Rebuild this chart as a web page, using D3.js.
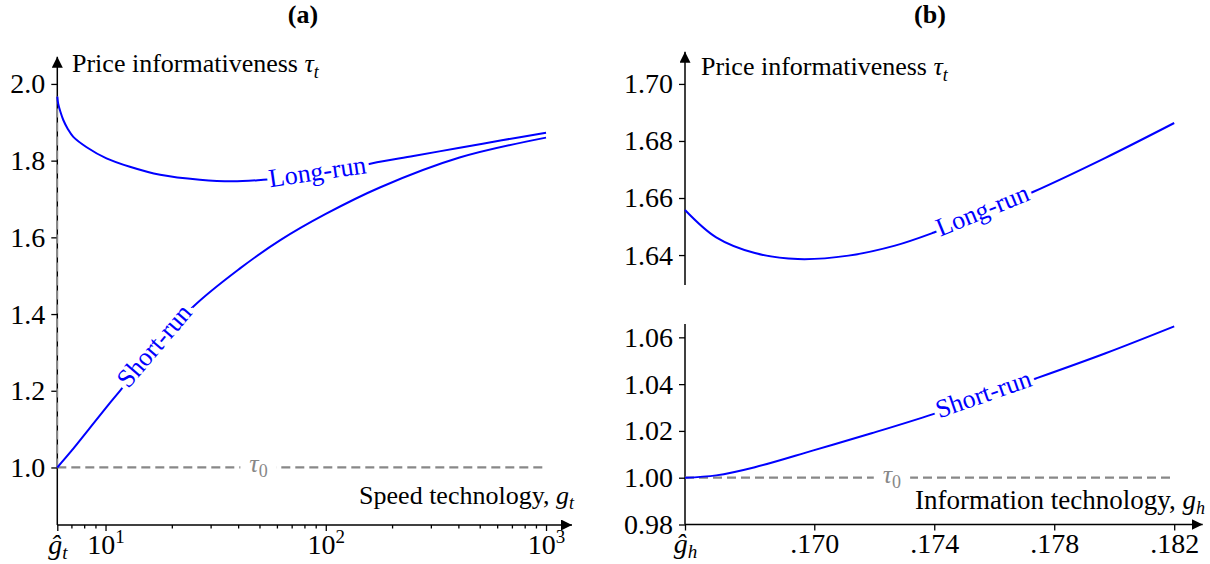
<!DOCTYPE html>
<html>
<head>
<meta charset="utf-8">
<script src="https://cdn.jsdelivr.net/npm/d3@7"></script>
<style>
  body { margin: 0; background: #fff; }
  svg text { font-family: "Liberation Serif", "Times New Roman", serif; }
</style>
</head>
<body>
<svg id="chart" width="1210" height="564"></svg>
<script>
// ---- Panel (a): price informativeness vs. speed technology g_t (log axis) ----
const gHatT = 6.04;
const speedLong = [6.04, 6.1, 6.25, 6.43, 6.75, 7.14, 8.21, 10.1, 12.9, 17.7, 26.8, 37.8, 52, 70, 100, 130, 163, 250, 400, 630, 1000];
const longRunSpeed = [1.967, 1.948, 1.926, 1.906, 1.882, 1.862, 1.835, 1.806, 1.784, 1.763, 1.750, 1.746, 1.750, 1.756, 1.767, 1.780, 1.793, 1.812, 1.833, 1.853, 1.873];
const speedShort = [6.04, 7, 8.41, 10, 11.63, 16, 25, 40.8, 61.9, 100, 176, 405, 1000];
const shortRunSpeed = [1.0, 1.043, 1.10, 1.154, 1.20, 1.295, 1.419, 1.519, 1.592, 1.661, 1.730, 1.808, 1.860];
const tauTicksA = [1.0, 1.2, 1.4, 1.6, 1.8, 2.0];
const speedMajorTicks = [10, 100, 1000];
const speedTickExponents = ["1", "2", "3"];
const speedMinorTicks = [7, 8, 9, 20, 30, 40, 50, 60, 70, 80, 90, 200, 300, 400, 500, 600, 700, 800, 900];

// ---- Panel (b): price informativeness vs. information technology g_h ----
const gHatH = 0.16569;
const infoLong = [0.16569, 0.16673, 0.16802, 0.16945, 0.17114, 0.17269, 0.17399, 0.17564, 0.17729, 0.17969, 0.182];
const longRunInfo = [1.6558, 1.6462, 1.6407, 1.6386, 1.6398, 1.6433, 1.6479, 1.6548, 1.6621, 1.6740, 1.6863];
const infoShort = [0.16569, 0.16673, 0.16802, 0.16997, 0.17191, 0.17399, 0.17736, 0.17969, 0.182];
const shortRunInfo = [1.0, 1.0010, 1.0045, 1.0117, 1.0190, 1.0273, 1.0423, 1.0531, 1.0647];
const tauTicksUpper = [1.64, 1.66, 1.68, 1.70];
const tauTicksLower = [0.98, 1.00, 1.02, 1.04, 1.06];
const infoTicks = [0.170, 0.174, 0.178, 0.182];
const infoTickLabels = [".170", ".174", ".178", ".182"];

const tau0 = 1.0;

// ---- drawing ----
const FONT = '"Liberation Serif", "Times New Roman", serif';
const BLUE = "#0000ff";
const GREY = "#888888";
const FS = 26;      // titles and annotations
const TICK_FS = 28; // tick labels

const svg = d3.select("#chart");

svg.append("defs").append("marker")
  .attr("id", "arrow")
  .attr("viewBox", "0 0 11 11")
  .attr("refX", 11).attr("refY", 5.5)
  .attr("markerWidth", 11).attr("markerHeight", 11)
  .attr("markerUnits", "userSpaceOnUse")
  .attr("orient", "auto")
  .append("path").attr("d", "M0,0L11,5.5L0,11Z").attr("fill", "#000");

function styleAxis(g) {
  g.attr("font-family", FONT).attr("font-size", TICK_FS);
  g.select(".domain").remove();
  g.selectAll(".tick line").attr("stroke", "#000").attr("stroke-width", 1.3);
  g.selectAll(".tick text").attr("fill", "#000");
}

function axisLine(x1, y1, x2, y2, arrow) {
  const l = svg.append("line")
    .attr("x1", x1).attr("y1", y1).attr("x2", x2).attr("y2", y2)
    .attr("stroke", "#000").attr("stroke-width", 1.5);
  if (arrow) l.attr("marker-end", "url(#arrow)");
}

// find the point of a rendered path at a given x, with its local direction
function pointOnPath(node, targetX) {
  const L = node.getTotalLength();
  let lo = 0, hi = L;
  for (let i = 0; i < 40; i++) {
    const mid = (lo + hi) / 2;
    if (node.getPointAtLength(mid).x < targetX) lo = mid; else hi = mid;
  }
  const p = node.getPointAtLength(lo);
  const a = node.getPointAtLength(Math.max(0, lo - 25));
  const b = node.getPointAtLength(Math.min(L, lo + 25));
  return { x: p.x, y: p.y, angle: Math.atan2(b.y - a.y, b.x - a.x) * 180 / Math.PI };
}

function curveLabel(pathNode, xPix, label) {
  const p = pointOnPath(pathNode, xPix);
  svg.append("text")
    .attr("transform", `translate(${p.x},${p.y}) rotate(${p.angle})`)
    .attr("text-anchor", "middle")
    .attr("dy", "0.22em")
    .attr("font-size", FS)
    .attr("fill", BLUE)
    .attr("stroke", "#fff").attr("stroke-width", 9)
    .attr("paint-order", "stroke")
    .text(label);
}

function tauZeroLabel(x, y) {
  const t = svg.append("text")
    .attr("x", x).attr("y", y + 5)
    .attr("text-anchor", "middle")
    .attr("font-size", FS).attr("fill", GREY);
  t.append("tspan").attr("font-style", "italic").text("τ");
  t.append("tspan").attr("font-size", 18).attr("dy", 5).text("0");
  const bb = t.node().getBBox();
  svg.insert("rect", () => t.node())
    .attr("x", bb.x - 9).attr("y", y - 3).attr("width", bb.width + 18).attr("height", 6)
    .attr("fill", "#fff");
}

function yAxisTitle(x, y) {
  const t = svg.append("text").attr("x", x).attr("y", y).attr("font-size", FS).attr("fill", "#000");
  t.append("tspan").text("Price informativeness ");
  t.append("tspan").attr("font-style", "italic").text("τ");
  t.append("tspan").attr("font-style", "italic").attr("font-size", 18).attr("dy", 6).text("t");
}

const smooth = d3.curveCatmullRom.alpha(0.5);

// ===== Panel (a) =====
const xA = d3.scaleLog().domain([gHatT, 1312]).range([57.3, 572]);
const yA = d3.scaleLinear().domain([0.85, 2.071]).range([525, 56.7]);
const x0A = xA(gHatT), yBaseA = yA(0.85);

svg.append("text").attr("x", 303).attr("y", 23).attr("text-anchor", "middle")
  .attr("font-size", FS).attr("font-weight", "bold").text("(a)");

svg.append("g").attr("transform", `translate(${x0A},0)`)
  .call(d3.axisLeft(yA).tickValues(tauTicksA).tickFormat(d3.format(".1f")).tickSize(6).tickPadding(6))
  .call(styleAxis);

svg.append("g").attr("transform", `translate(0,${yBaseA})`)
  .call(d3.axisBottom(xA).tickValues(speedMinorTicks).tickFormat("").tickSize(3.5))
  .call(styleAxis);

svg.append("g").attr("transform", `translate(0,${yBaseA})`)
  .call(d3.axisBottom(xA).tickValues([gHatT].concat(speedMajorTicks)).tickSize(6).tickPadding(3))
  .call(styleAxis)
  .selectAll(".tick text").each(function (d, i) {
    const t = d3.select(this).text(null);
    if (i === 0) {
      t.append("tspan").attr("font-style", "italic").text("ĝ");
      t.append("tspan").attr("font-style", "italic").attr("font-size", 19).attr("dy", 5).text("t");
    } else {
      t.append("tspan").text("10");
      t.append("tspan").attr("font-size", 19).attr("dy", -11).text(speedTickExponents[i - 1]);
    }
  });

axisLine(x0A, yBaseA, x0A, yA.range()[1], true);
axisLine(x0A, yBaseA, xA.range()[1], yBaseA, true);

// τ0 reference level and the vertical guide at ĝ_t
svg.append("line")
  .attr("x1", x0A).attr("x2", xA(1000)).attr("y1", yA(tau0)).attr("y2", yA(tau0))
  .attr("stroke", GREY).attr("stroke-width", 2.2).attr("stroke-dasharray", "9,5");
svg.append("line")
  .attr("x1", x0A).attr("x2", x0A).attr("y1", yA(tau0)).attr("y2", yA(longRunSpeed[0]))
  .attr("stroke", GREY).attr("stroke-width", 1.6).attr("stroke-dasharray", "9,5");

const lineA = d3.line().x(d => xA(d[0])).y(d => yA(d[1])).curve(smooth);
const longA = svg.append("path").datum(d3.zip(speedLong, longRunSpeed))
  .attr("d", lineA).attr("fill", "none").attr("stroke", BLUE).attr("stroke-width", 2);
const shortA = svg.append("path").datum(d3.zip(speedShort, shortRunSpeed))
  .attr("d", lineA).attr("fill", "none").attr("stroke", BLUE).attr("stroke-width", 2);

curveLabel(longA.node(), xA(92), "Long-run");
curveLabel(shortA.node(), xA(17), "Short-run");
tauZeroLabel(xA(49.5), yA(tau0));

yAxisTitle(72, 72);
{
  const t = svg.append("text").attr("x", 574).attr("y", 504).attr("text-anchor", "end")
    .attr("font-size", FS).attr("fill", "#000");
  t.append("tspan").text("Speed technology, ");
  t.append("tspan").attr("font-style", "italic").text("g");
  t.append("tspan").attr("font-style", "italic").attr("font-size", 18).attr("dy", 5).text("t");
}

// ===== Panel (b) =====
const xB = d3.scaleLinear().domain([gHatH, 0.18295]).range([685, 1202.7]);
const yU = d3.scaleLinear().domain([1.6295, 1.7113]).range([285, 51.7]);
const yL = d3.scaleLinear().domain([0.98, 1.0657]).range([524.5, 324]);
const x0B = xB(gHatH);

svg.append("text").attr("x", 930).attr("y", 23).attr("text-anchor", "middle")
  .attr("font-size", FS).attr("font-weight", "bold").text("(b)");

svg.append("g").attr("transform", `translate(${x0B},0)`)
  .call(d3.axisLeft(yU).tickValues(tauTicksUpper).tickFormat(d3.format(".2f")).tickSize(6).tickPadding(6))
  .call(styleAxis);
svg.append("g").attr("transform", `translate(${x0B},0)`)
  .call(d3.axisLeft(yL).tickValues(tauTicksLower).tickFormat(d3.format(".2f")).tickSize(6).tickPadding(6))
  .call(styleAxis);

svg.append("g").attr("transform", `translate(0,${yL(0.98)})`)
  .call(d3.axisBottom(xB).tickValues([gHatH].concat(infoTicks)).tickSize(6).tickPadding(3))
  .call(styleAxis)
  .selectAll(".tick text").each(function (d, i) {
    const t = d3.select(this).text(null);
    if (i === 0) {
      t.append("tspan").attr("font-style", "italic").text("ĝ");
      t.append("tspan").attr("font-style", "italic").attr("font-size", 19).attr("dy", 5).text("h");
    } else {
      t.text(infoTickLabels[i - 1]);
    }
  });

axisLine(x0B, yU.range()[0], x0B, yU.range()[1], true);
axisLine(x0B, yL.range()[0], x0B, yL.range()[1], false);
axisLine(x0B, yL(0.98), xB.range()[1], yL(0.98), true);

svg.append("line")
  .attr("x1", x0B).attr("x2", xB(0.182)).attr("y1", yL(tau0)).attr("y2", yL(tau0))
  .attr("stroke", GREY).attr("stroke-width", 2.2).attr("stroke-dasharray", "9,5");

const lineU = d3.line().x(d => xB(d[0])).y(d => yU(d[1])).curve(smooth);
const lineL = d3.line().x(d => xB(d[0])).y(d => yL(d[1])).curve(smooth);
const longB = svg.append("path").datum(d3.zip(infoLong, longRunInfo))
  .attr("d", lineU).attr("fill", "none").attr("stroke", BLUE).attr("stroke-width", 2);
const shortB = svg.append("path").datum(d3.zip(infoShort, shortRunInfo))
  .attr("d", lineL).attr("fill", "none").attr("stroke", BLUE).attr("stroke-width", 2);

curveLabel(longB.node(), xB(0.17564), "Long-run");
curveLabel(shortB.node(), xB(0.17567), "Short-run");
tauZeroLabel(xB(0.17259), yL(tau0));

yAxisTitle(701, 75);
{
  const t = svg.append("text").attr("x", 1205).attr("y", 509).attr("text-anchor", "end")
    .attr("font-size", 27).attr("fill", "#000");
  t.append("tspan").text("Information technology, ");
  t.append("tspan").attr("font-style", "italic").text("g");
  t.append("tspan").attr("font-style", "italic").attr("font-size", 18).attr("dy", 5).text("h");
}
</script>
</body>
</html>
